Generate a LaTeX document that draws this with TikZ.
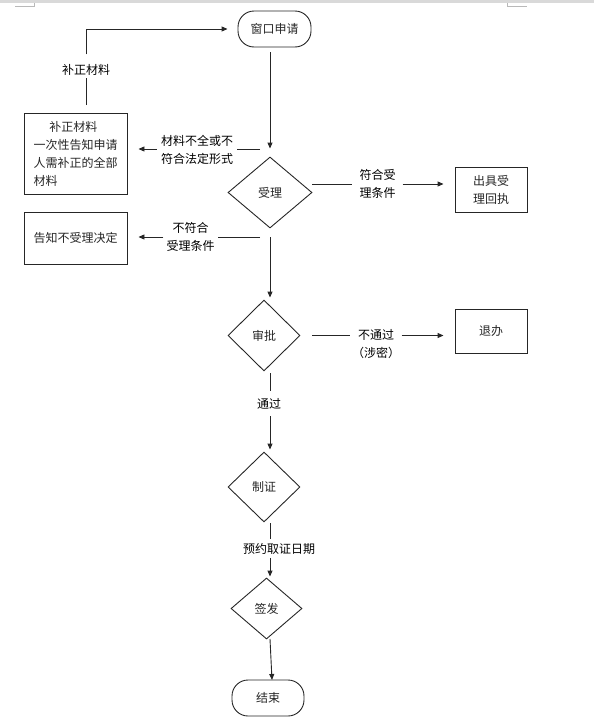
\documentclass[tikz,border=0pt]{standalone}
\usepackage{fontspec}
\setmainfont{Noto Sans CJK SC}
\usetikzlibrary{shapes.geometric,arrows.meta,calc}
\tikzset{
  ln/.style={line width=0.9pt, black!85},
  arr/.style={ln, -{Triangle[length=6pt,width=5pt]}},
  box/.style={draw, ln, rectangle, inner sep=0pt},
  dia/.style={draw, ln, diamond, inner sep=0pt},
  term/.style={draw, ln, rectangle, rounded corners=16pt, inner sep=0pt},
  lbl/.style={align=center, inner xsep=3pt, inner ysep=0pt},
  every node/.append style={font=\fontsize{12}{18}\selectfont, text=black}
}
\begin{document}
\begin{tikzpicture}[x=1pt,y=-1pt]
\useasboundingbox (0,0) rectangle (594,723);
% page edge marks
\fill[gray!30] (0,0) rectangle (594,3);
\draw[gray!55, line width=1pt] (15,6.5) -- (34,6.5) -- (34,3);
\draw[gray!55, line width=1pt] (507,3) -- (507,6.5) -- (527,6.5);

% nodes
\node[term, minimum width=73pt, minimum height=36pt] (start) at (274.5,29) {窗口申请};
\node[dia, minimum width=84pt, minimum height=71pt] (accept) at (270,192.5) {受理};
\node[box, minimum width=103pt, minimum height=81pt, align=left] (fix) at (75.5,153.5)
  {\makebox[80pt][c]{补正材料}\\一次性告知申请\\人需补正的全部\\材料};
\node[box, minimum width=103pt, minimum height=52pt] (reject) at (75.5,238) {告知不受理决定};
\node[box, minimum width=72pt, minimum height=45pt, align=center] (receipt) at (491,189.5) {出具受\\理回执};
\node[dia, minimum width=72pt, minimum height=71pt] (approve) at (264,335.5) {审批};
\node[box, minimum width=72pt, minimum height=44pt] (back) at (491,331) {退办\hspace{8pt}};
\node[dia, minimum width=72pt, minimum height=70pt] (make) at (264,487) {制证};
\node[dia, minimum width=71pt, minimum height=61pt] (sign) at (266.5,608.5) {签发};
\node[term, minimum width=72pt, minimum height=36pt] (finish) at (268,698) {结束};

% labels
\node[lbl, inner xsep=4pt] (l1) at (197,149.5) {材料不全或不\\符合法定形式};
\node[lbl] (l2) at (190.5,237) {不符合\\受理条件};
\node[lbl, inner xsep=7pt] (l3) at (377.5,184) {符合受\\理条件};
\node[lbl, inner xsep=1.5pt] (l4) at (376,344) {不通过\\（涉密）};
\node[lbl, inner ysep=7pt] (l5) at (269,403.5) {通过};
\node[lbl, inner ysep=3.5pt] (l6) at (279,548.5) {预约取证日期};
\node[lbl, inner ysep=2pt] (l8) at (86,70) {补正材料};

% coordinates
\coordinate (c1) at (260,149);
\coordinate (c2) at (260,237);
\coordinate (c3) at (312,184);
\coordinate (c4) at (312,335.5);
\coordinate (c5) at (270,373);
\coordinate (c6) at (270,523);
\coordinate (c7) at (270,639);
\coordinate (c7b) at (272,680);
\coordinate (c8) at (86,105);

% connectors
\draw[arr, shorten <=5pt, shorten >=8pt] (start.south -| accept.north) -- (accept.north);
\draw[ln] (c1) -- (c1 -| l1.east);
\draw[arr, shorten >=11pt] (c1 -| l1.west) -- (c1 -| fix.east);
\draw[ln] (c2) -- (c2 -| l2.east);
\draw[arr, shorten >=11pt] (c2 -| l2.west) -- (c2 -| reject.east);
\draw[ln] (c3) -- (c3 -| l3.west);
\draw[arr, shorten >=11pt] (c3 -| l3.east) -- (c3 -| receipt.west);
\draw[arr, shorten <=9pt, shorten >=2pt] (accept.south) -- (accept.south |- approve.north);
\draw[ln] (c4) -- (c4 -| l4.west);
\draw[arr, shorten >=11pt] (c4 -| l4.east) -- (c4 -| back.west);
\draw[ln] (c5) -- (c5 |- l5.north);
\draw[arr, shorten >=2pt] (c5 |- l5.south) -- (c5 |- make.north);
\draw[ln] (c6) -- (c6 |- l6.north);
\draw[arr, shorten >=1pt] (c6 |- l6.south) -- (c6 |- sign.north);
\draw[arr] (c7) -- (c7b);
\draw[ln] (c8) -- (l8.south);
\draw[arr, shorten <=8pt, shorten >=10pt] (l8.north) |- (start.west);
\end{tikzpicture}
\end{document}
